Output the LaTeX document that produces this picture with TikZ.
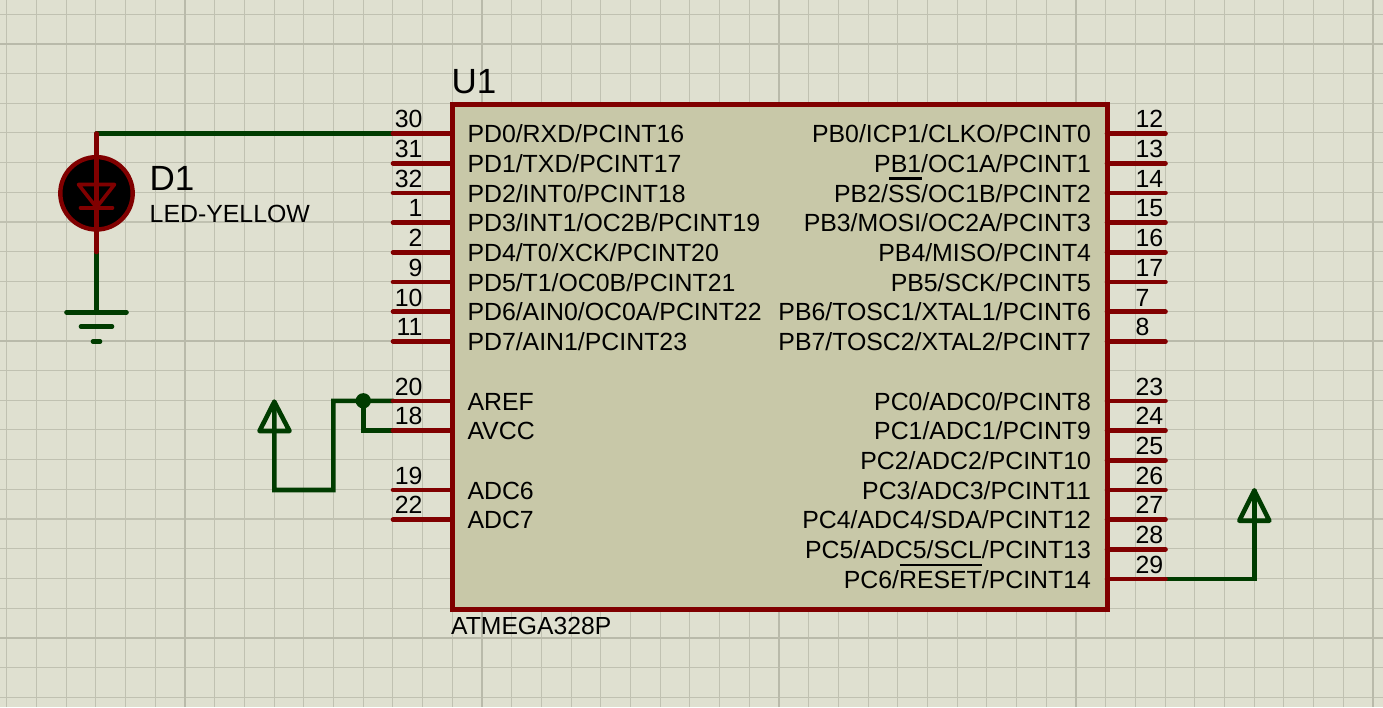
\documentclass[tikz,border=0pt]{standalone}
\usepackage{fontspec}
\setmainfont{Liberation Sans}
\definecolor{bgc}{HTML}{DFE0D0}
\definecolor{gridc}{HTML}{C0C1B1}
\definecolor{majorc}{HTML}{B9BAAA}
\definecolor{chipc}{HTML}{C8C8A8}
\definecolor{redc}{HTML}{800000}
\definecolor{greenc}{HTML}{003C00}
\newcommand\fsz[1]{\fontsize{#1}{#1}\selectfont}
\pgfdeclarelayer{gridlayer}
\pgfdeclarelayer{wirelayer}
\pgfsetlayers{gridlayer,wirelayer,main}
\tikzset{
  minorgrid/.style={gridc,line width=1.1pt},
  majorgrid/.style={majorc,line width=2pt},
  chipbox/.style={draw=redc,fill=chipc,line width=5pt,minimum width=654.5pt,minimum height=504.5pt,inner sep=0pt,outer sep=0pt,line join=miter},
  pinline/.style={redc,line width=4.6pt,line cap=round},
  wire/.style={greenc,line width=4.6pt,line cap=round,line join=miter},
  termhead/.style={greenc,line width=4.6pt,line join=round},
  ledline/.style={redc,line width=4.6pt,line cap=round,line join=round},
  ledsym/.style={redc,line width=3.6pt,line cap=round,line join=round},
  pintext/.style={inner sep=0pt,outer sep=0pt,text=black,font=\fsz{24.85}},
  pinnum/.style={inner sep=0pt,outer sep=0pt,text=black,font=\fsz{24.85}},
  bartext/.style={black,line width=2.6pt},
  dot/.style={circle,fill=greenc,minimum size=15.3pt,inner sep=0pt,outer sep=0pt}
}
\newcommand\leftpin[3]{%
  \coordinate (P#2) at (393,#1+0.4);
  \draw[pinline] (P#2) -- (452,#1+0.4);
  \node[pinnum,anchor=base east] (N#2) at (422.5,#1-5.3) {#2};
  \node[pintext,anchor=base west] (T#2) at (467.5,#1+9.6) {#3};
}
\newcommand\rightpin[3]{%
  \coordinate (P#2) at (1165.5,#1+0.4);
  \draw[pinline] (1107,#1+0.4) -- (P#2);
  \node[pinnum,anchor=base west] (N#2) at (1135.5,#1-5.3) {#2};
  \node[pintext,anchor=base east] (T#2) at (1091,#1+9.6) {#3};
}
\begin{document}
\begin{tikzpicture}[x=1pt,y=-1pt]
\useasboundingbox (0,0) rectangle (1383,707);
\begin{pgfonlayer}{gridlayer}
\fill[bgc] (0,0) rectangle (1383,707);
\foreach \k in {-6,...,40}{
  \draw[minorgrid] ({185+29.7*\k},0) -- ({185+29.7*\k},707);
}
\foreach \k in {-1,...,22}{
  \draw[minorgrid] (0,{43.8+29.7*\k}) -- (1383,{43.8+29.7*\k});
}
\foreach \k in {0,1,2,3,4}{
  \draw[majorgrid] ({185+297*\k},0) -- ({185+297*\k},707);
}
\foreach \k in {0,1,2}{
  \draw[majorgrid] (0,{43.8+297*\k}) -- (1383,{43.8+297*\k});
}
\end{pgfonlayer}
% chip
\node[chipbox] (chip) at (779.75,356.75) {};
\node[inner sep=0pt,anchor=base west,font=\fsz{35}] (U1) at (451.5,93) {U1};
\node[inner sep=0pt,anchor=base west,font=\fsz{24.7}] (part) at (451,634) {ATMEGA328P};
\leftpin{133.1}{30}{PD0/RXD/PCINT16}
\leftpin{162.8}{31}{PD1/TXD/PCINT17}
\leftpin{192.5}{32}{PD2/INT0/PCINT18}
\leftpin{222.2}{1}{PD3/INT1/OC2B/PCINT19}
\leftpin{251.9}{2}{PD4/T0/XCK/PCINT20}
\leftpin{281.6}{9}{PD5/T1/OC0B/PCINT21}
\leftpin{311.3}{10}{PD6/AIN0/OC0A/PCINT22}
\leftpin{341}{11}{PD7/AIN1/PCINT23}
\leftpin{400.4}{20}{AREF}
\leftpin{430.1}{18}{AVCC}
\leftpin{489.5}{19}{ADC6}
\leftpin{519.2}{22}{ADC7}
\rightpin{133.1}{12}{PB0/ICP1/CLKO/PCINT0}
\rightpin{162.8}{13}{PB1/OC1A/PCINT1}
\rightpin{192.5}{14}{PB2/SS/OC1B/PCINT2}
\rightpin{222.2}{15}{PB3/MOSI/OC2A/PCINT3}
\rightpin{251.9}{16}{PB4/MISO/PCINT4}
\rightpin{281.6}{17}{PB5/SCK/PCINT5}
\rightpin{311.3}{7}{PB6/TOSC1/XTAL1/PCINT6}
\rightpin{341}{8}{PB7/TOSC2/XTAL2/PCINT7}
\rightpin{400.4}{23}{PC0/ADC0/PCINT8}
\rightpin{430.1}{24}{PC1/ADC1/PCINT9}
\rightpin{459.8}{25}{PC2/ADC2/PCINT10}
\rightpin{489.5}{26}{PC3/ADC3/PCINT11}
\rightpin{519.2}{27}{PC4/ADC4/SDA/PCINT12}
\rightpin{548.9}{28}{PC5/ADC5/SCL/PCINT13}
\rightpin{578.6}{29}{PC6/RESET/PCINT14}
\draw[bartext] (889,178.7) -- (922,178.7);
\draw[bartext] (900,565) -- (982,565);
% LED
\coordinate (ledtop) at (96.5,133.5);
\coordinate (ledbot) at (96.5,252);
\node[circle,draw=redc,fill=black,line width=4.4pt,minimum size=72.4pt,inner sep=0pt,outer sep=0pt] (led) at (96.5,193.3) {};
\draw[ledline] (ledtop) -- (ledbot);
\draw[ledsym] (78.5,184.5) -- (114.5,184.5) -- (96.5,207.5) -- cycle;
\draw[ledsym] (80.5,207.8) -- (112.5,207.8);
\node[inner sep=0pt,anchor=base west,font=\fsz{35}] (D1) at (149.5,190) {D1};
\node[inner sep=0pt,anchor=base west,font=\fsz{24.85}] (D1v) at (149.5,222.5) {LED-YELLOW};
% ground
\coordinate (gnd) at (96.5,312.3);
\begin{pgfonlayer}{wirelayer}
\draw[wire] (ledtop) -- (P30);
\draw[wire] (ledbot) -- (gnd);
\draw[wire] (66.5,312.3) -- (126.5,312.3);
\draw[wire] (81,326.5) -- (112,326.5);
\draw[wire] (93,341.5) -- (100,341.5);
% power terminal left
\coordinate (pwrA) at (274.3,401.8);
\coordinate (pwrAb) at (274.3,490);
\draw[wire] (pwrA) -- (pwrAb) -- (333.3,490) -- (333.3,400.8) -- (P20);
\draw[termhead] (259.5,431) -- (pwrA) -- (289.5,431) -- cycle;
\node[dot] (jn) at (363.3,400.8) {};
\draw[wire] (jn) |- (P18);
% power terminal right
\coordinate (pwrB) at (1254.3,490.6);
\draw[wire] (P29) -| (pwrB);
\draw[termhead] (1239.3,520.7) -- (pwrB) -- (1269.3,520.7) -- cycle;
\end{pgfonlayer}
\end{tikzpicture}
\end{document}
